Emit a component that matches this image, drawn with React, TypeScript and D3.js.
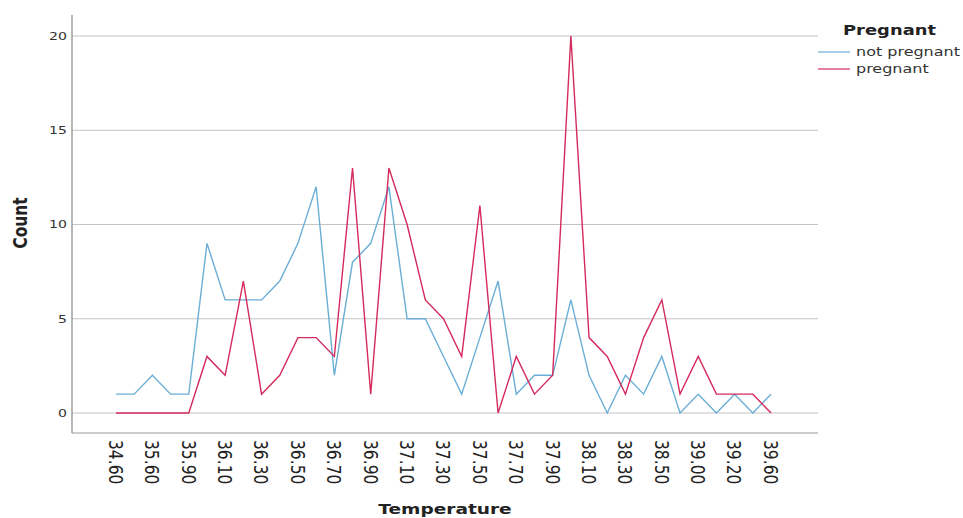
import React from "react";
import * as d3 from "d3";

const categories = ["34.60","35.00","35.60","35.80","35.90","36.00","36.10","36.20","36.30","36.40","36.50","36.60","36.70","36.80","36.90","37.00","37.10","37.20","37.30","37.40","37.50","37.60","37.70","37.80","37.90","38.00","38.10","38.20","38.30","38.40","38.50","38.70","39.00","39.10","39.20","39.40","39.60"];
const notPregnant = [1,1,2,1,1,9,6,6,6,7,9,12,2,8,9,12,5,5,3,1,4,7,1,2,2,6,2,0,2,1,3,0,1,0,1,0,1];
const pregnant = [0,0,0,0,0,3,2,7,1,2,4,4,3,13,1,13,10,6,5,3,11,0,3,1,2,20,4,3,1,4,6,1,3,1,1,1,0];
const yTicks = [0, 5, 10, 15, 20];
const seriesNames = ["not pregnant", "pregnant"];
const colors = ["#6aaed6", "#d42a5c"];

const SX = 1.28;

export default function App() {
  const W = 963, H = 518;
  const x = d3.scalePoint<string>().domain(categories).range([116, 771]);
  const y = d3.scaleLinear().domain([0, 20]).range([413, 36]);
  const axisLeft = 72, axisRight = 818, axisBottom = 433, axisTop = 15;
  const line = d3.line<number>().x((_, i) => x(categories[i]) as number).y((d) => y(d));
  const tickCats = categories.filter((_, i) => i % 2 === 0);
  const series = [notPregnant, pregnant];
  return (
    <svg width={W} height={H} style={{ position: "absolute", left: 0, top: 0, background: "#fff" }}
      fontFamily="'DejaVu Sans', Verdana, sans-serif">
      {yTicks.map((t) => (
        <g key={t}>
          <line x1={axisLeft} x2={axisRight} y1={y(t)} y2={y(t)} stroke="#c4c4c4" strokeWidth={1.2} />
          <text transform={`translate(67,${y(t)}) scale(${SX},1)`} dy="0.35em" textAnchor="end" fontSize={11} fill="#333">{t}</text>
        </g>
      ))}
      <line x1={axisLeft} x2={axisLeft} y1={axisTop} y2={axisBottom} stroke="#888" strokeWidth={1.2} />
      <line x1={axisLeft} x2={axisRight} y1={axisBottom} y2={axisBottom} stroke="#999" strokeWidth={1.2} />
      {tickCats.map((c) => (
        <text key={c} transform={`translate(${x(c)},440) rotate(90) scale(1,${SX})`} dy="0.36em" textAnchor="start"
          fontSize={15.5} fill="#222">{c}</text>
      ))}
      {series.map((s, k) => (
        <path key={k} d={line(s) || ""} fill="none" stroke={colors[k]} strokeWidth={1.4} strokeLinejoin="miter" />
      ))}
      <text transform={`translate(20,223) rotate(-90) scale(1,${SX})`} dy="0.35em" textAnchor="middle" fontSize={15.5} fontWeight="bold" fill="#222">Count</text>
      <text transform={`translate(445,514) scale(${SX},1)`} textAnchor="middle" fontSize={14.5} fontWeight="bold" fill="#222">Temperature</text>
      <text transform={`translate(843,35) scale(${SX},1)`} fontSize={14} fontWeight="bold" fill="#222">Pregnant</text>
      {seriesNames.map((n, k) => (
        <g key={n}>
          <line x1={818} x2={850} y1={52 + k * 17} y2={52 + k * 17} stroke={colors[k]} strokeWidth={1.2} />
          <text transform={`translate(856,${52 + k * 17}) scale(${SX},1)`} dy="0.35em" fontSize={12.5} fill="#333">{n}</text>
        </g>
      ))}
    </svg>
  );
}
